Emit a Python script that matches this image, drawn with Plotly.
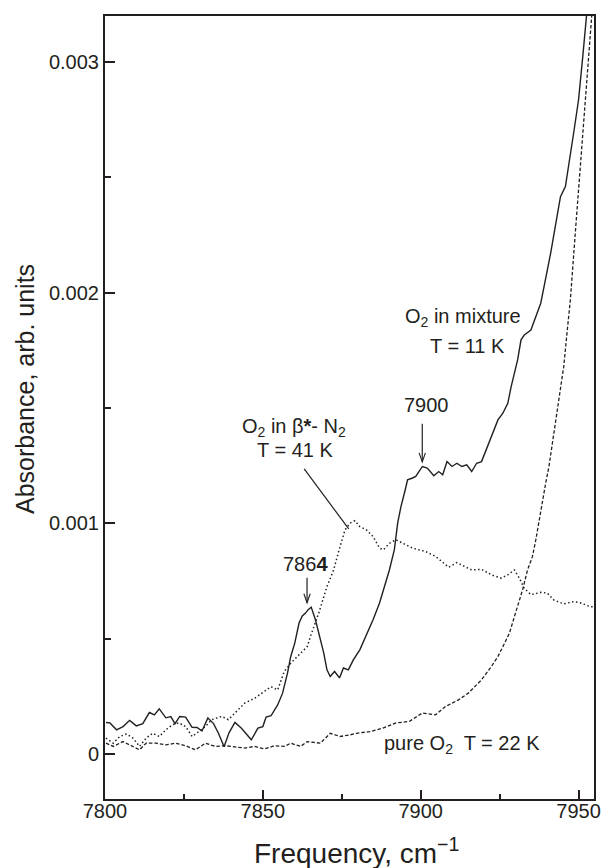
import numpy as np
import plotly.graph_objects as go

INK = "#231f20"
FONT = "Liberation Sans, Arial, sans-serif"

# Absorbance values are listed in units of 1e-3 (arb. units)
# O2 in mixture, T = 11 K
mix_freq = [7800.31, 7801.56, 7803.66, 7805.72, 7807.81, 7809.91, 7811.97, 7814.06, 7815.63, 7817.19,
            7819.28, 7820.84, 7822.19, 7823.66, 7825.53, 7827.59, 7829.16, 7830.72, 7832.59, 7834.38,
            7835.94, 7837.72, 7839.28, 7841.16, 7843.22, 7846.34, 7848.44, 7850.00, 7851.03, 7852.59,
            7854.69, 7856.25, 7857.81, 7858.84, 7860.09, 7861.47, 7862.50, 7863.53, 7864.28, 7865.31,
            7866.66, 7868.22, 7869.28, 7870.31, 7871.34, 7872.72, 7874.28, 7875.53, 7877.09, 7878.66,
            7880.72, 7884.91, 7886.97, 7890.09, 7891.66, 7892.72, 7893.75, 7895.09, 7895.84, 7897.41,
            7898.44, 7900.53, 7902.09, 7904.16, 7905.72, 7906.97, 7908.34, 7909.91, 7911.47, 7913.03,
            7914.59, 7916.16, 7917.72, 7919.28, 7920.31, 7922.41, 7924.47, 7926.03, 7927.59, 7928.66,
            7929.69, 7930.72, 7931.78, 7932.81, 7934.91, 7936.47, 7938.03, 7939.06, 7941.16, 7944.28,
            7945.84, 7948.44, 7950.00, 7951.34, 7952.41, 7953.20]
mix_abs = [0.136, 0.134, 0.104, 0.118, 0.145, 0.121, 0.131, 0.179, 0.169, 0.195,
           0.156, 0.161, 0.131, 0.162, 0.159, 0.115, 0.114, 0.099, 0.155, 0.131,
           0.089, 0.031, 0.091, 0.136, 0.111, 0.061, 0.111, 0.118, 0.159, 0.165,
           0.212, 0.263, 0.350, 0.422, 0.479, 0.567, 0.598, 0.610, 0.624, 0.636,
           0.581, 0.494, 0.438, 0.364, 0.335, 0.357, 0.329, 0.372, 0.364, 0.407,
           0.451, 0.581, 0.654, 0.797, 0.885, 1.001, 1.072, 1.144, 1.188, 1.196,
           1.203, 1.246, 1.239, 1.206, 1.224, 1.210, 1.267, 1.246, 1.260, 1.246,
           1.253, 1.224, 1.260, 1.267, 1.303, 1.376, 1.448, 1.477, 1.520, 1.592,
           1.650, 1.709, 1.795, 1.816, 1.838, 1.896, 1.954, 2.025, 2.170, 2.416,
           2.460, 2.691, 2.835, 3.023, 3.196, 3.300]

# O2 in beta*-N2, T = 41 K
beta_freq = [7800.31, 7802.59, 7804.69, 7806.78, 7808.84, 7810.94, 7813.03, 7815.09, 7817.19, 7819.28,
             7821.34, 7823.44, 7825.53, 7827.59, 7829.69, 7831.78, 7833.84, 7836.97, 7839.06, 7841.16,
             7844.28, 7847.41, 7850.53, 7852.59, 7854.69, 7856.78, 7858.84, 7861.97, 7864.06, 7865.09,
             7867.72, 7870.31, 7872.41, 7874.47, 7876.03, 7877.59, 7879.16, 7880.72, 7882.81, 7884.91,
             7886.97, 7888.22, 7890.09, 7892.19, 7895.31, 7897.41, 7901.56, 7904.69, 7906.78, 7908.84,
             7911.47, 7913.03, 7916.16, 7919.28, 7922.41, 7925.53, 7927.59, 7929.69, 7931.25, 7932.81,
             7934.91, 7938.03, 7940.09, 7942.19, 7945.31, 7948.44, 7950.53, 7953.66, 7954.69]
beta_abs = [0.068, 0.046, 0.075, 0.086, 0.068, 0.032, 0.068, 0.089, 0.075, 0.104,
            0.126, 0.134, 0.118, 0.075, 0.096, 0.118, 0.148, 0.162, 0.148, 0.177,
            0.220, 0.241, 0.270, 0.291, 0.277, 0.357, 0.393, 0.436, 0.465, 0.509,
            0.611, 0.725, 0.797, 0.899, 0.971, 1.000, 1.011, 0.985, 0.971, 0.942,
            0.892, 0.885, 0.913, 0.928, 0.906, 0.892, 0.877, 0.856, 0.833, 0.809,
            0.829, 0.819, 0.797, 0.800, 0.776, 0.762, 0.776, 0.797, 0.762, 0.718,
            0.690, 0.700, 0.697, 0.667, 0.650, 0.660, 0.655, 0.638, 0.638]

# pure O2, T = 22 K
pure_freq = [7800.31, 7802.59, 7805.72, 7808.84, 7810.94, 7813.03, 7816.16, 7819.28, 7822.41, 7825.53,
             7828.66, 7831.78, 7834.91, 7838.03, 7841.16, 7844.28, 7847.41, 7850.53, 7853.66, 7856.78,
             7858.84, 7861.97, 7864.06, 7868.22, 7871.34, 7874.47, 7877.59, 7879.69, 7883.84, 7888.03,
             7892.19, 7896.34, 7900.53, 7904.69, 7907.81, 7911.97, 7915.09, 7917.19, 7919.28, 7922.41,
             7924.47, 7926.56, 7928.13, 7929.69, 7931.25, 7932.28, 7933.84, 7935.41, 7936.47, 7937.50,
             7938.53, 7939.59, 7940.63, 7942.19, 7943.75, 7945.31, 7946.34, 7947.41, 7948.97, 7950.53,
             7952.09, 7953.13, 7954.16, 7954.50]
pure_abs = [0.046, 0.032, 0.053, 0.032, 0.017, 0.046, 0.046, 0.039, 0.046, 0.035,
            0.017, 0.046, 0.032, 0.035, 0.029, 0.025, 0.032, 0.021, 0.035, 0.032,
            0.046, 0.032, 0.053, 0.046, 0.089, 0.075, 0.082, 0.089, 0.096, 0.111,
            0.134, 0.140, 0.177, 0.169, 0.205, 0.234, 0.263, 0.291, 0.321, 0.379,
            0.422, 0.479, 0.524, 0.595, 0.667, 0.711, 0.797, 0.856, 0.928, 1.015,
            1.101, 1.173, 1.246, 1.391, 1.535, 1.679, 1.824, 1.968, 2.258, 2.546,
            2.792, 3.023, 3.196, 3.300]

# marked peaks: (frequency, arrow tail, arrow head) in absorbance units of 1e-3
peak_marks = [(7900.5, 1.431, 1.266), (7864.0, 0.763, 0.655)]

x_tick_vals = [7800, 7850, 7900, 7950]
y_tick_vals = [0, 0.001, 0.002, 0.003]
y_tick_text = ["0", "0.001", "0.002", "0.003"]

X_RANGE = [7800, 7954.9]
Y_RANGE = [-0.000196, 0.0031994]

W, H = 610, 868
MARGIN = dict(l=105, r=9, t=16, b=69)
plot_w = W - MARGIN["l"] - MARGIN["r"]
plot_h = H - MARGIN["t"] - MARGIN["b"]
x_per_px = (X_RANGE[1] - X_RANGE[0]) / plot_w
y_per_px = (Y_RANGE[1] - Y_RANGE[0]) / plot_h

milli = 1e-3
fig = go.Figure()
fig.add_trace(go.Scatter(x=beta_freq, y=np.array(beta_abs) * milli, mode="lines",
                         line=dict(color=INK, width=1.5, dash="1.5px,2.5px"), hoverinfo="skip"))
fig.add_trace(go.Scatter(x=pure_freq, y=np.array(pure_abs) * milli, mode="lines",
                         line=dict(color=INK, width=1.3, dash="3.5px,2px"), hoverinfo="skip"))
fig.add_trace(go.Scatter(x=mix_freq, y=np.array(mix_abs) * milli, mode="lines",
                         line=dict(color=INK, width=1.4), hoverinfo="skip"))

tick_font = dict(family=FONT, size=20, color=INK)
label_font = dict(family=FONT, size=20, color=INK)

fig.update_layout(
    width=W, height=H,
    margin=MARGIN,
    paper_bgcolor="white", plot_bgcolor="white",
    showlegend=False,
    xaxis=dict(range=X_RANGE, tickvals=x_tick_vals, ticks="inside", ticklen=9, tickwidth=1.5,
               tickcolor=INK, showline=True, linecolor=INK, linewidth=2, mirror=True,
               showgrid=False, zeroline=False, tickfont=tick_font, ticklabelstandoff=-7,
               minor=dict(ticks="inside", ticklen=5, tickwidth=1.5, tickcolor=INK,
                          tick0=7800, dtick=25, showgrid=False)),
    yaxis=dict(range=Y_RANGE, tickvals=y_tick_vals, ticktext=y_tick_text, ticks="inside",
               ticklen=10, tickwidth=1.5, tickcolor=INK, showline=True, linecolor=INK,
               linewidth=2, mirror=True, showgrid=False, zeroline=False, tickfont=tick_font,
               ticklabelstandoff=0,
               minor=dict(ticks="inside", ticklen=6, tickwidth=1.5, tickcolor=INK,
                          tick0=0, dtick=0.0005, showgrid=False)),
    yaxis2=dict(range=Y_RANGE, overlaying="y", side="right", anchor="x", tickvals=y_tick_vals,
                ticks="outside", ticklen=4, tickwidth=1.5, tickcolor=INK, showticklabels=False,
                showline=False, showgrid=False, zeroline=False,
                minor=dict(ticks="outside", ticklen=4, tickwidth=1.5, tickcolor=INK,
                           tick0=0, dtick=0.0005, showgrid=False)),
)

# axis titles
fig.add_annotation(text="Frequency, cm<sup>\u22121</sup>", xref="paper", yref="paper",
                   x=0.515, y=-0.066, xanchor="center", yanchor="middle", showarrow=False,
                   font=dict(family=FONT, size=28, color=INK))
fig.add_annotation(text="Absorbance, arb. units", xref="paper", yref="paper",
                   x=-0.165, y=0.524, xanchor="center", yanchor="middle", textangle=-90,
                   showarrow=False, font=dict(family=FONT, size=25, color=INK))

# curve labels
labels = [
    ("O<sub>2</sub> in mixture", 7913.4, 1.890e-3),
    ("T = 11 K", 7914.7, 1.769e-3),
    ("7900", 7901.9, 1.513e-3),
    ("O<sub>2</sub> in \u03b2<b>*</b>- N<sub>2</sub>", 7860.0, 1.413e-3),
    ("T = 41 K", 7860.3, 1.318e-3),
    ("786<b>4</b>", 7863.6, 0.824e-3),
    ("pure O<sub>2</sub>  T = 22 K", 7913.1, 0.039e-3),
]
for txt, lx, ly in labels:
    fig.add_annotation(text=txt, x=lx, y=ly, xref="x", yref="y", showarrow=False,
                       xanchor="center", yanchor="middle", font=label_font)

# peak markers: vertical shaft with an open V head
head_dx = 3.2 * x_per_px
head_dy = 9 * y_per_px
for fx, tail, head in peak_marks:
    y_tail, y_head = tail * milli, head * milli
    fig.add_shape(type="line", x0=fx, y0=y_tail, x1=fx, y1=y_head, xref="x", yref="y",
                  line=dict(color=INK, width=1.2))
    fig.add_shape(type="path", xref="x", yref="y",
                  path=f"M {fx - head_dx},{y_head + head_dy} L {fx},{y_head} L {fx + head_dx},{y_head + head_dy}",
                  line=dict(color=INK, width=1.1))

# leader line to the beta*-N2 curve
fig.add_shape(type="line", x0=7863.1, y0=1.236e-3, x1=7877.2, y1=0.975e-3, xref="x", yref="y",
              line=dict(color=INK, width=1.2))

fig.write_html("out.html")
